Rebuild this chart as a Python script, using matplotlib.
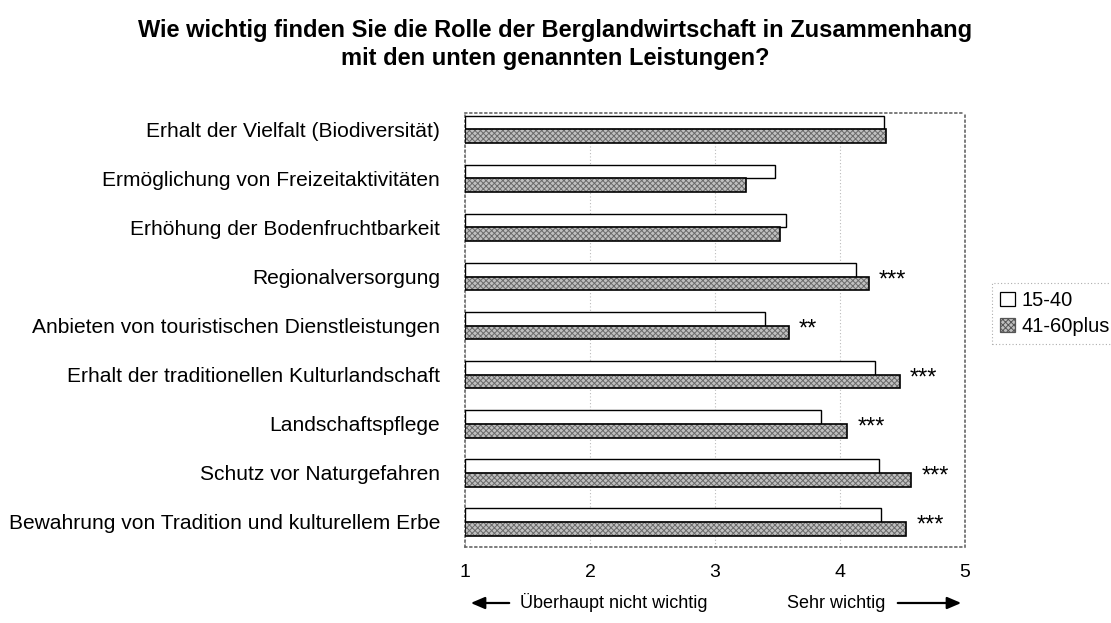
"""
Horizontal grouped bar chart: importance of mountain farming services by age group.
"""
import numpy as np
import matplotlib.pyplot as plt
from matplotlib.patches import Patch, FancyArrowPatch

plt.rcParams["font.family"] = ["Liberation Sans", "DejaVu Sans"]

# Data
categories = [
    "Erhalt der Vielfalt (Biodiversität)",
    "Ermöglichung von Freizeitaktivitäten",
    "Erhöhung der Bodenfruchtbarkeit",
    "Regionalversorgung",
    "Anbieten von touristischen Dienstleistungen",
    "Erhalt der traditionellen Kulturlandschaft",
    "Landschaftspflege",
    "Schutz vor Naturgefahren",
    "Bewahrung von Tradition und kulturellem Erbe",
]
young = [4.35, 3.48, 3.57, 4.13, 3.40, 4.28, 3.85, 4.31, 4.33]
old = [4.37, 3.25, 3.52, 4.23, 3.59, 4.48, 4.06, 4.57, 4.53]
signif = ["", "", "", "***", "**", "***", "***", "***", "***"]
series_labels = ["15-40", "41-60plus"]
xticks = [1, 2, 3, 4, 5]

fig = plt.figure(figsize=(11.11, 6.23), dpi=100)
ax = fig.add_axes([0.4185, 0.122, 0.45, 0.6964])

y = np.arange(len(categories))
h = 0.28
left = 1

# white bars (15-40)
ax.barh(y - h / 2, np.array(young) - left, left=left, height=h,
        color="white", edgecolor="black", linewidth=1.0, zorder=3)

# hatched gray bars (41-60plus): texture first, outline on top
plt.rcParams["hatch.linewidth"] = 0.7
ax.barh(y + h / 2, np.array(old) - left, left=left, height=h,
        color="#c0c0c0", edgecolor="#6a6a6a", hatch="xxxxxx",
        linewidth=0, zorder=3)
ax.barh(y + h / 2, np.array(old) - left, left=left, height=h,
        color="none", edgecolor="black", linewidth=1.2, zorder=4)

# significance stars
for i, s in enumerate(signif):
    if s:
        ax.text(max(young[i], old[i]) + 0.08, y[i] + 0.08, s,
                ha="left", va="center", fontsize=17, zorder=5)

ax.set_xlim(1, 5)
ax.set_ylim(8.51, -0.33)
ax.set_yticks(y)
ax.set_yticklabels(categories, fontsize=15.1)
ax.set_xticks(xticks)
ax.set_xticklabels([str(t) for t in xticks], fontsize=14)
ax.tick_params(axis="both", length=0)
ax.tick_params(axis="y", pad=18)
ax.tick_params(axis="x", pad=12)

ax.grid(axis="x", color="#bbbbbb", linestyle=(0, (1, 2)), linewidth=0.8, zorder=0)
for sp in ax.spines.values():
    sp.set_linestyle((0, (1, 2)))
    sp.set_color("#666666")
    sp.set_linewidth(1.2)

# title
fig.text(0.5, 1 - 30 / 623, "Wie wichtig finden Sie die Rolle der Berglandwirtschaft in Zusammenhang",
         ha="center", va="center", fontsize=17, fontweight="bold")
fig.text(0.5, 1 - 58 / 623, "mit den unten genannten Leistungen?",
         ha="center", va="center", fontsize=17, fontweight="bold")

# scale descriptions with arrows
fy = 1 - 603 / 623
fig.text(520 / 1111, fy, "Überhaupt nicht wichtig", ha="left", va="center", fontsize=13)
fig.text(885 / 1111, fy, "Sehr wichtig", ha="right", va="center", fontsize=13)
arrow = dict(arrowstyle="-|>,head_length=0.7,head_width=0.3", color="black",
             lw=1.6, mutation_scale=12, transform=fig.transFigure)
fig.patches.append(FancyArrowPatch((512 / 1111, fy), (468 / 1111, fy), **arrow))
fig.patches.append(FancyArrowPatch((895 / 1111, fy), (964 / 1111, fy), **arrow))

# legend
handles = [
    Patch(facecolor="white", edgecolor="black", linewidth=0.9),
    Patch(facecolor="#c0c0c0", edgecolor="#555555", hatch="xxxxxx", linewidth=0.9),
]
leg = fig.legend(handles, series_labels, loc="upper left",
                 bbox_to_anchor=(992 / 1111, 1 - 283 / 623), fontsize=14.5,
                 frameon=True, fancybox=False, handlelength=0.75, handleheight=0.75,
                 handletextpad=0.3, borderpad=0.4, labelspacing=0.35,
                 borderaxespad=0)
leg.get_frame().set_linestyle((0, (1, 2)))
leg.get_frame().set_edgecolor("#999999")
leg.get_frame().set_linewidth(0.8)

fig.savefig("out.png", dpi=100)
